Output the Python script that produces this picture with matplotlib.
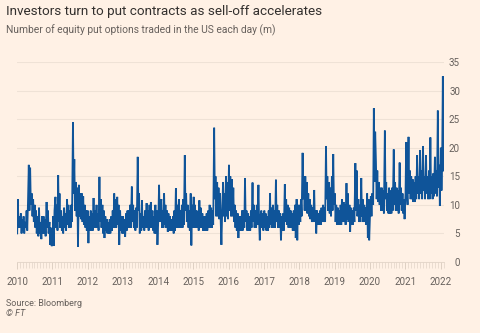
import matplotlib
matplotlib.use("Agg")
import matplotlib.pyplot as plt
import matplotlib.dates as mdates
import pandas as pd
import numpy as np

# Weekly-ish readings (4 per month, Jan..Dec), millions of contracts
v2010 = [5, 11, 6, 8,   6, 8.5, 5, 7.5,   5.5, 8, 5, 7,   6, 9, 5.5, 10,
         17, 9, 16.5, 10,   12, 8, 11, 7,   10, 6, 9, 5,   8, 4.5, 9.5, 5,
         7, 4, 8, 5,   8, 5, 7.5, 4.5,   10.5, 6, 9, 5,   7, 3, 6, 2.8]
v2011 = [3, 8, 2.8, 9,   11.4, 6, 10, 5.5,   15.2, 7, 12, 6,   9, 5.5, 8, 5,
         9.5, 6, 8.5, 5.5,   11, 6.5, 10, 6,   9, 6, 10, 7,   24.5, 12, 18, 9,
         14, 8, 13, 2.7,   13.5, 8, 12, 7.5,   12, 7, 11.5, 6.5,   10, 6, 9, 5.5]
v2012 = [9, 3.3, 8, 5.5,   9, 5.5, 8.5, 5.5,   11.2, 6, 9, 6,   10, 6, 8.5, 5.5,
         14.9, 7, 11, 6,   10, 5, 9, 4.2,   8, 5.5, 7.5, 5,   7, 5, 7.5, 5,
         8, 5.5, 9, 6,   12, 6, 11, 6,   11.4, 6.5, 10, 3,   9, 5.5, 8, 5]
v2013 = [8, 5, 7.5, 4.4,   8.5, 5.5, 9, 6,   9, 6, 10, 6,   13.2, 7, 10, 6,
         9, 5.5, 9.5, 6,   18.4, 9, 12, 5,   8.5, 5.5, 10.8, 6,   8, 5.5, 9, 6,
         10.3, 6, 9, 5.5,   10, 6, 10.5, 6,   9, 5.5, 8, 5,   10, 5, 9, 3]
v2014 = [8, 13.5, 7, 10,   11, 6, 9, 6,   12, 6.5, 10, 6,   9, 5.3, 8.5, 5.5,
         8, 5.5, 7.5, 5.5,   8, 5, 9, 5.5,   12.9, 6, 10, 6,   11, 6, 9, 6,
         10, 6, 11, 6.5,   18.7, 9, 12, 7,   10, 6, 9, 5.5,   12, 2.9, 10, 6]
v2015 = [11.4, 6, 10, 6,   9, 6, 8.5, 5.5,   10.8, 6, 9.5, 6,   8.5, 5.5, 8, 5.5,
         8, 5.5, 8.5, 5.5,   9, 6, 10, 6,   9.5, 6, 9, 6.5,   23.5, 11, 15, 8,
         14, 8, 13, 7.5,   12, 7, 3, 8,   14, 8, 12, 7,   15, 8, 14, 7.5]
v2016 = [17, 9, 15, 8,   14.5, 8, 13, 7,   10, 6, 9, 5.5,   8.5, 4.2, 8, 5.5,
         8, 5.5, 9, 5.5,   9, 6, 14.7, 7,   9, 5.5, 8.5, 5.5,   8, 5.5, 9, 6,
         13.9, 7, 10, 6,   9, 6, 10, 6.5,   13.5, 7, 3.8, 8,   9, 6, 8.5, 5.5]
v2017 = [9, 6, 8.5, 5.5,   8, 5.5, 9, 6,   12, 6.5, 9.5, 6,   10, 6, 9, 6,
         14.4, 7, 10, 6,   9, 6, 8.5, 3.8,   8, 5.5, 8.5, 5.5,   13.6, 7, 11, 6.5,
         10, 6, 9.5, 6,   9, 6, 8.5, 5.5,   9, 5.5, 10, 4.2,   11, 3.8, 10, 6.5]
v2018 = [10, 7, 11, 8,   19.1, 11, 15, 9,   15, 9, 14, 8.5,   12, 8, 11, 7.5,
         10, 7, 9.5, 7,   12.6, 7, 9, 5,   9, 6.5, 8.5, 6.5,   9, 6.5, 9.5, 7,
         10, 7, 9.5, 7,   20.3, 11, 15, 9,   14, 8.5, 13, 8,   15, 9, 18.9, 10]
v2019 = [12, 7, 10, 6.5,   9.5, 6.5, 9, 6.5,   10, 6.5, 11, 7,   10.5, 7, 10, 6.5,
         13.8, 7.5, 12, 7,   10, 5.3, 9.5, 6.5,   9, 6.5, 9.5, 7,   17.3, 9, 16, 8,
         11, 7, 10, 7,   14.7, 8, 11, 7,   10, 7, 9.5, 6.5,   12, 4.2, 11, 3.8]
v2020 = [9, 11.5, 8, 12,   10, 26.9, 14, 22.8,   17.5, 11, 16, 10.5,   14, 10, 13, 9,
         13, 9, 12.5, 8.5,   23, 11, 14, 9,   12, 8.5, 13, 8.5,   12.5, 8.5, 13, 9,
         19.7, 10, 14, 9,   13, 9, 12.5, 8.5,   17.4, 10, 13, 9,   12, 8.5, 11, 7.5]
v2021 = [12, 21, 13, 10,   21.9, 12, 16, 11,   15, 11, 14.5, 10.5,   14, 10.5, 15, 11,
         18.7, 12, 15, 11,   19.6, 12, 16, 11,   20.3, 12.5, 15, 11,   18.7, 12, 15, 11,
         16, 11, 21.8, 12,   15, 11, 15.5, 11.5,   18.4, 12, 16, 11.5,   26.5, 13, 17, 9.8]
v2022 = [20, 12.5, 18, 32.5, 16]  # January 2022

year_values = [v2010, v2011, v2012, v2013, v2014, v2015, v2016, v2017,
               v2018, v2019, v2020, v2021]

dates, values = [], []
for i, yv in enumerate(year_values):
    yr = 2010 + i
    for m in range(12):
        chunk = yv[m * 4:(m + 1) * 4]
        start = pd.Timestamp(year=yr, month=m + 1, day=1)
        for k, val in enumerate(chunk):
            dates.append(start + pd.Timedelta(days=2 + 7 * k))
            values.append(val)
start = pd.Timestamp(2022, 1, 1)
for k, val in enumerate(v2022):
    dates.append(start + pd.Timedelta(days=2 + 7 * k))
    values.append(val)
dates = pd.to_datetime(dates)

BG = "#fff1e5"
LINE = "#0f5499"
TXT = "#33302e"
SUB = "#66605c"
GRID = "#efe2d6"

plt.rcParams["font.family"] = ["Roboto", "DejaVu Sans"]

W, H = 480, 333
fig = plt.figure(figsize=(W / 100, H / 100), dpi=100, facecolor=BG)
ax_l, ax_r, ax_t, ax_b = 17, 444, 62, 262
ax = fig.add_axes([ax_l / W, 1 - ax_b / H, (ax_r - ax_l) / W, (ax_b - ax_t) / H])
ax.set_facecolor(BG)

ax.plot(dates, values, color=LINE, lw=1.3, solid_joinstyle="miter", zorder=3)

ax.set_xlim(pd.Timestamp("2010-01-01"), pd.Timestamp("2022-02-05"))
ax.set_ylim(0, 35)
ax.set_yticks([0, 5, 10, 15, 20, 25, 30, 35])
ax.yaxis.tick_right()
ax.tick_params(axis="y", length=0, pad=11.5, labelsize=7, labelcolor=SUB)
for lab in ax.get_yticklabels():
    lab.set_ha("right")
ax.grid(axis="y", color=GRID, lw=0.8, zorder=0)

ax.xaxis.set_major_locator(mdates.YearLocator())
ax.xaxis.set_major_formatter(mdates.DateFormatter("%Y"))
ax.xaxis.set_minor_locator(mdates.MonthLocator())
ax.tick_params(axis="x", which="major", length=5, width=0.6, color="#d8cabd",
               labelsize=7, labelcolor=SUB, pad=6)
ax.tick_params(axis="x", which="minor", length=4, width=0.5, color="#e2d4c7")

for s in ["top", "left", "right"]:
    ax.spines[s].set_visible(False)
ax.spines["bottom"].set_color("#e2d4c7")
ax.spines["bottom"].set_linewidth(0.6)

fig.text(6 / W, 1 - 15.5 / H, "Investors turn to put contracts as sell-off accelerates",
         fontsize=9.7, color=TXT, va="baseline", ha="left")
fig.text(6 / W, 1 - 33.5 / H, "Number of equity put options traded in the US each day (m)",
         fontsize=7.4, color=SUB, va="baseline", ha="left")
fig.text(6 / W, 1 - 306 / H, "Source: Bloomberg", fontsize=6.5, color=SUB,
         va="baseline", ha="left")
fig.text(6 / W, 1 - 316.5 / H, "© FT", fontsize=6.5, color=SUB, style="italic",
         va="baseline", ha="left")

fig.savefig("out.png", dpi=100, facecolor=BG)
